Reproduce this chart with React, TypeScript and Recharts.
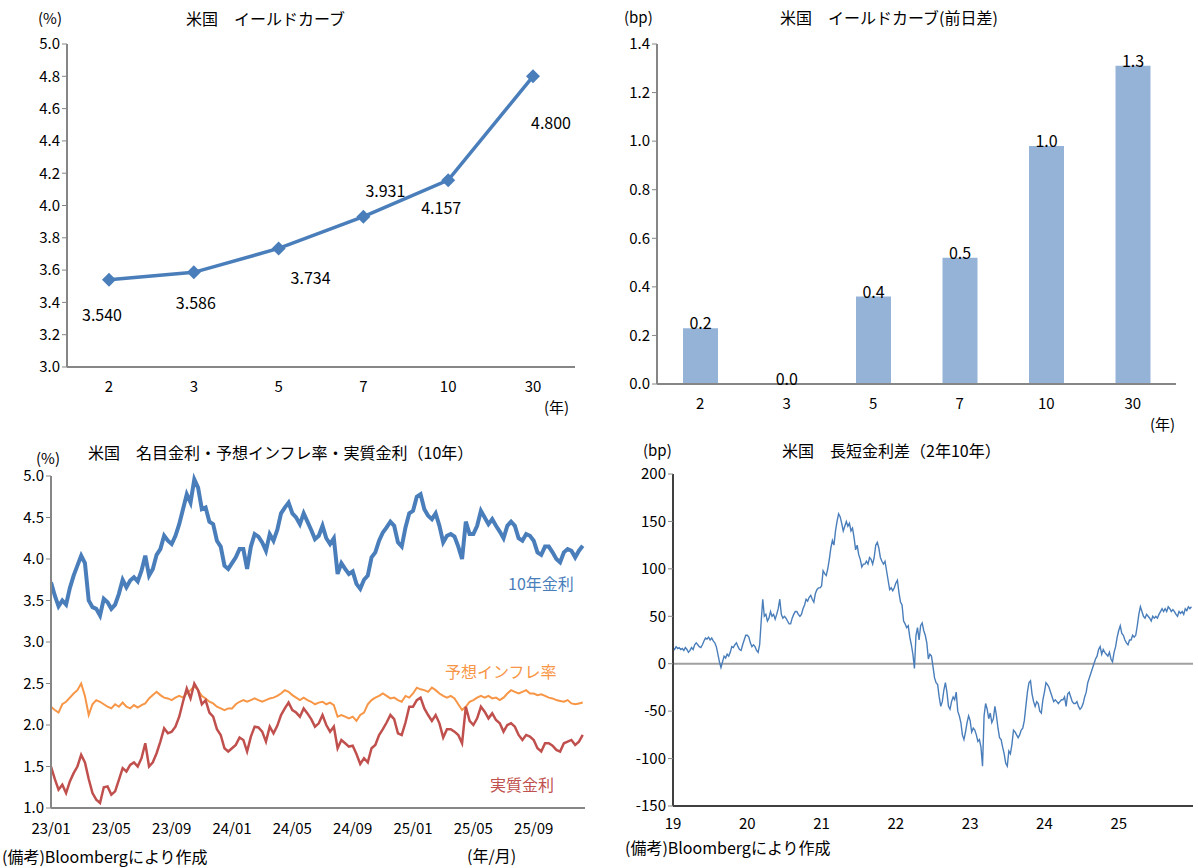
import React from 'react';
import {
  Bar,
  BarChart,
  LabelList,
  Line,
  LineChart,
  ReferenceDot,
  ReferenceLine,
  XAxis,
  YAxis
} from 'recharts';

// top-left: yield curve
const maturities = ['2', '3', '5', '7', '10', '30'];
const curveYields = [3.54, 3.586, 3.734, 3.931, 4.157, 4.8];
// top-right: change from previous day (bp)
const dailyChange = [0.23, 0.0, 0.36, 0.52, 0.98, 1.31];

// bottom-left: 10y nominal, breakeven, real (weekly, 4 per month)
const nominal2023 = [
  3.72, 3.56, 3.43, 3.5, 3.45, 3.65, 3.8, 3.92, 4.04, 3.95, 3.5, 3.42,
  3.4, 3.32, 3.52, 3.48, 3.4, 3.45, 3.58, 3.75, 3.66, 3.74, 3.78, 3.73,
  3.86, 4.04, 3.8, 3.88, 4.05, 4.12, 4.28, 4.22, 4.18, 4.28, 4.42, 4.6,
  4.78, 4.68, 4.96, 4.86, 4.6, 4.62, 4.45, 4.42, 4.22, 4.15, 3.92, 3.88
];
const nominal2024 = [
  3.95, 4.02, 4.12, 4.12, 3.88, 4.15, 4.3, 4.27, 4.2, 4.1, 4.3, 4.22,
  4.35, 4.55, 4.62, 4.68, 4.55, 4.5, 4.42, 4.55, 4.45, 4.35, 4.24, 4.28,
  4.4, 4.25, 4.18, 4.25, 3.82, 3.95, 3.88, 3.82, 3.85, 3.7, 3.64, 3.75,
  3.8, 4.02, 4.08, 4.22, 4.32, 4.38, 4.45, 4.4, 4.2, 4.15, 4.38, 4.55
];
const nominal2025 = [
  4.58, 4.75, 4.78, 4.6, 4.52, 4.48, 4.55, 4.4, 4.2, 4.28, 4.3, 4.27,
  4.15, 4.0, 4.45, 4.3, 4.3, 4.4, 4.58, 4.5, 4.42, 4.48, 4.4, 4.33,
  4.25, 4.4, 4.45, 4.4, 4.25, 4.22, 4.3, 4.28, 4.22, 4.08, 4.05, 4.15,
  4.15, 4.08, 4.0, 3.96, 4.08, 4.12, 4.1, 4.02, 4.1, 4.16
];
const bei2023 = [
  2.22, 2.18, 2.15, 2.25, 2.28, 2.33, 2.38, 2.42, 2.5, 2.35, 2.12, 2.25,
  2.3, 2.28, 2.25, 2.22, 2.2, 2.25, 2.22, 2.27, 2.22, 2.2, 2.24, 2.21,
  2.24, 2.26, 2.32, 2.36, 2.4, 2.36, 2.33, 2.32, 2.3, 2.33, 2.35, 2.33,
  2.38, 2.42, 2.47, 2.42, 2.35, 2.32, 2.28, 2.26, 2.22, 2.2, 2.18, 2.2
];
const bei2024 = [
  2.2, 2.25, 2.28, 2.3, 2.28, 2.3, 2.32, 2.3, 2.28, 2.3, 2.32, 2.33,
  2.35, 2.38, 2.42, 2.4, 2.36, 2.33, 2.3, 2.33, 2.3, 2.28, 2.25, 2.27,
  2.28, 2.25, 2.27, 2.24, 2.1, 2.12, 2.1, 2.08, 2.1, 2.05, 2.12, 2.15,
  2.25, 2.3, 2.33, 2.35, 2.38, 2.35, 2.32, 2.33, 2.3, 2.28, 2.35, 2.33
];
const bei2025 = [
  2.38, 2.45, 2.43, 2.42, 2.4, 2.45, 2.42, 2.38, 2.35, 2.33, 2.35, 2.32,
  2.25, 2.18, 2.22, 2.28, 2.3, 2.33, 2.35, 2.33, 2.35, 2.32, 2.33, 2.3,
  2.33, 2.38, 2.42, 2.4, 2.38, 2.4, 2.42, 2.38, 2.38, 2.36, 2.37, 2.35,
  2.33, 2.32, 2.3, 2.29, 2.28, 2.3, 2.26, 2.25, 2.26, 2.27
];
const real2023 = [
  1.5, 1.35, 1.22, 1.28, 1.18, 1.32, 1.42, 1.5, 1.64, 1.55, 1.35, 1.18,
  1.1, 1.06, 1.25, 1.26, 1.16, 1.2, 1.34, 1.48, 1.44, 1.52, 1.55, 1.5,
  1.6, 1.78, 1.5, 1.55, 1.66, 1.8, 1.96, 1.9, 1.92, 1.98, 2.1, 2.28,
  2.44, 2.32, 2.5, 2.42, 2.25, 2.3, 2.15, 2.1, 1.95, 1.88, 1.72, 1.68
];
const real2024 = [
  1.72, 1.76, 1.85, 1.82, 1.68, 1.86, 1.98, 1.97, 1.92, 1.8, 1.98, 1.9,
  1.99, 2.12, 2.2, 2.27, 2.18, 2.15, 2.1, 2.2, 2.14, 2.07, 1.98, 2.02,
  2.12, 2.0, 1.92, 1.98, 1.72, 1.82, 1.78, 1.74, 1.75, 1.65, 1.53, 1.6,
  1.55, 1.72, 1.76, 1.88, 1.95, 2.03, 2.12, 2.07, 1.9, 1.88, 2.03, 2.22
];
const real2025 = [
  2.22, 2.3, 2.33, 2.2, 2.12, 2.05, 2.12, 2.02, 1.85, 1.95, 1.95, 1.92,
  1.88, 1.78, 2.22, 2.05, 2.0, 2.08, 2.22, 2.16, 2.08, 2.14, 2.06, 2.02,
  1.92, 2.0, 2.02, 1.98, 1.88, 1.82, 1.88, 1.86, 1.82, 1.72, 1.68, 1.78,
  1.78, 1.75, 1.7, 1.68, 1.78, 1.8, 1.82, 1.76, 1.8, 1.88
];
const monthTicks = ['23/01', '23/05', '23/09', '24/01', '24/05', '24/09', '25/01', '25/05', '25/09'];

// bottom-right: 2y10y spread (bp, weekly, 4 per month)
const spread2019 = [
  17, 15, 18, 16, 17, 15, 16, 14, 17, 15, 12, 14,
  17, 15, 20, 22, 20, 18, 17, 20, 24, 27, 26, 28,
  25, 27, 24, 22, 18, 10, 2, -4, 2, 8, 6, 10,
  8, 12, 18, 17, 20, 22, 18, 15, 14, 20, 25, 30
];
const spread2020 = [
  30, 28, 22, 18, 20, 18, 14, 12, 20, 45, 68, 50,
  52, 45, 48, 55, 50, 52, 47, 52, 58, 68, 52, 48,
  50, 48, 45, 42, 42, 48, 52, 55, 55, 52, 50, 52,
  58, 62, 68, 66, 70, 72, 68, 65, 74, 78, 80, 80
];
const spread2021 = [
  82, 98, 95, 93, 100, 110, 122, 130, 125, 140, 150, 158,
  155, 148, 140, 145, 150, 145, 148, 140, 143, 133, 120, 125,
  115, 110, 102, 105, 105, 108, 105, 112, 110, 105, 112, 125,
  128, 122, 112, 108, 105, 108, 98, 88, 78, 80, 77, 80
];
const spread2022 = [
  85, 88, 75, 65, 62, 45, 42, 38, 40, 28, 20, 10,
  -5, 30, 38, 25, 40, 43, 35, 30, 22, 5, 10, 8,
  -3, -15, -20, -22, -35, -45, -40, -28, -20, -30, -45, -48,
  -40, -35, -38, -30, -50, -55, -62, -75, -80, -72, -62, -55
];
const spread2023 = [
  -60, -72, -68, -70, -75, -82, -80, -88, -108, -55, -42, -48,
  -58, -52, -62, -58, -45, -55, -68, -78, -80, -88, -95, -105,
  -108, -92, -95, -85, -70, -72, -75, -78, -75, -70, -68, -60,
  -45, -30, -20, -18, -32, -40, -45, -40, -42, -50, -52, -38
];
const spread2024 = [
  -30, -20, -22, -25, -30, -35, -40, -38, -40, -42, -40, -38,
  -38, -35, -45, -32, -30, -35, -40, -42, -42, -40, -45, -48,
  -46, -42, -35, -30, -20, -15, -10, -5, 0, 5, 8, 15,
  18, 10, 15, 12, 10, 8, 12, 5, 2, 12, 18, 28
];
const spread2025 = [
  35, 40, 32, 30, 25, 22, 20, 25, 25, 30, 28, 30,
  40, 52, 60, 55, 50, 48, 52, 50, 48, 45, 50, 48,
  50, 48, 52, 55, 58, 55, 58, 55, 60, 58, 55, 57,
  55, 52, 50, 55, 53, 55, 52, 58, 56, 60, 58, 60
];
const yearTicks = ['19', '20', '21', '22', '23', '24', '25'];

const JP = '"Noto Sans CJK JP", sans-serif';
const AXIS = '#868686';
const BLUE = '#4A7EBB';
const ORANGE = '#F79646';
const RED = '#C0504D';
const BARBLUE = '#95B3D7';

const curveData = maturities.map((m, i) => ({ m, y: curveYields[i] }));
const changeData = maturities.map((m, i) => ({ m, v: dailyChange[i] }));

const rateRows: { t: number; nominal: number; bei: number; real: number }[] = [];
(
  [
    [2023, nominal2023, bei2023, real2023],
    [2024, nominal2024, bei2024, real2024],
    [2025, nominal2025, bei2025, real2025]
  ] as [number, number[], number[], number[]][]
).forEach(([yr, n, b, r]) => {
  n.forEach((v, i) => rateRows.push({ t: yr + i / 48, nominal: v, bei: b[i], real: r[i] }));
});

const spreadRows: { t: number; s: number }[] = [];
(
  [
    [2019, spread2019],
    [2020, spread2020],
    [2021, spread2021],
    [2022, spread2022],
    [2023, spread2023],
    [2024, spread2024],
    [2025, spread2025]
  ] as [number, number[]][]
).forEach(([yr, arr]) => arr.forEach((s, i) => spreadRows.push({ t: yr + i / 48, s })));

const monthTickValues = monthTicks.map((l) => {
  const [yy, mm] = l.split('/').map(Number);
  return 2000 + yy + (mm - 1) / 12;
});
const fmtMonth = (v: number) => {
  const yr = Math.floor(v + 1e-6);
  const mo = Math.round((v - yr) * 12) + 1;
  return `${String(yr).slice(2)}/${String(mo).padStart(2, '0')}`;
};
const yearTickValues = yearTicks.map((y) => 2000 + Number(y));

const tickStyle = { fontSize: 15, fill: '#000', fontFamily: JP };

// where each yield label sits relative to its point
const labelOffsets = [
  [-7, 34],
  [2, 30],
  [32, 29],
  [22, -27],
  [-7, 27],
  [18, 46]
];

const Diamond = (p: any) => {
  const { cx, cy, index } = p;
  if (cx == null || cy == null) return <g key={index} />;
  const s = 7;
  return (
    <path
      key={index}
      d={`M${cx} ${cy - s}L${cx + s} ${cy}L${cx} ${cy + s}L${cx - s} ${cy}Z`}
      fill={BLUE}
    />
  );
};

const YieldLabel = (p: any) => {
  const { x, y, value, index } = p;
  const [dx, dy] = labelOffsets[index] || [0, 0];
  return (
    <text
      x={x + dx}
      y={y + dy}
      textAnchor="middle"
      dominantBaseline="central"
      fontSize={16}
      fontFamily={JP}
      fill="#000"
    >
      {Number(value).toFixed(3)}
    </text>
  );
};

const BarValue = (p: any) => {
  const { x, y, width, value } = p;
  return (
    <text x={x + width / 2} y={y + 1} textAnchor="middle" fontSize={16} fontFamily={JP} fill="#000">
      {Number(value).toFixed(1)}
    </text>
  );
};

function Txt({ x, y, children, size = 15, color = '#000' }: any) {
  return (
    <div
      style={{
        position: 'absolute',
        left: x,
        top: y,
        fontSize: size,
        color,
        whiteSpace: 'nowrap',
        lineHeight: 1,
        fontFamily: JP
      }}
    >
      {children}
    </div>
  );
}

const Box = ({ x, y, children }: any) => (
  <div style={{ position: 'absolute', left: x, top: y }}>{children}</div>
);

export default function App() {
  return (
    <div style={{ position: 'relative', width: 1198, height: 868, background: '#fff', overflow: 'hidden' }}>
      <style>{'body{margin:0}'}</style>

      {/* top-left */}
      <Box x={0} y={0}>
        <LineChart width={600} height={420} data={curveData} margin={{ top: 44, right: 25, bottom: 23, left: 17 }}>
          <XAxis
            dataKey="m"
            padding={{ left: 42, right: 42 }}
            tick={tickStyle}
            tickLine={false}
            axisLine={{ stroke: AXIS, strokeWidth: 2 }}
            height={30}
            tickMargin={8}
          />
          <XAxis xAxisId="top" orientation="top" dataKey="m" tick={false} tickLine={false} axisLine={{ stroke: '#000' }} height={0} />
          <YAxis
            domain={[3, 5]}
            ticks={[3, 3.2, 3.4, 3.6, 3.8, 4, 4.2, 4.4, 4.6, 4.8, 5]}
            tickFormatter={(v: number) => v.toFixed(1)}
            tick={tickStyle}
            tickLine={{ stroke: AXIS }}
            tickSize={5}
            axisLine={{ stroke: AXIS, strokeWidth: 2 }}
            width={50}
            allowDataOverflow
          />
          <YAxis yAxisId="right" orientation="right" tick={false} tickLine={false} axisLine={{ stroke: '#000' }} width={0} />
          <Line
            dataKey="y"
            stroke={BLUE}
            strokeWidth={3.5}
            dot={Diamond}
            activeDot={false}
            isAnimationActive={false}
          >
            <LabelList dataKey="y" content={YieldLabel} />
          </Line>
        </LineChart>
      </Box>
      <Txt x={38} y={10} size={15}>(%)</Txt>
      <Txt x={186} y={10} size={16}>米国　イールドカーブ</Txt>
      <Txt x={544} y={399} size={15}>(年)</Txt>

      {/* top-right */}
      <Box x={600} y={0}>
        <BarChart width={598} height={440} data={changeData} margin={{ top: 44, right: 22, bottom: 26, left: 12 }}>
          <XAxis
            dataKey="m"
            tick={tickStyle}
            tickLine={false}
            axisLine={{ stroke: AXIS, strokeWidth: 2 }}
            height={30}
            tickMargin={8}
          />
          <XAxis xAxisId="top" orientation="top" dataKey="m" tick={false} tickLine={false} axisLine={{ stroke: '#000' }} height={0} />
          <YAxis
            domain={[0, 1.4]}
            ticks={[0, 0.2, 0.4, 0.6, 0.8, 1, 1.2, 1.4]}
            tickFormatter={(v: number) => v.toFixed(1)}
            tick={tickStyle}
            tickLine={{ stroke: AXIS }}
            tickSize={5}
            axisLine={{ stroke: AXIS, strokeWidth: 2 }}
            width={45}
          />
          <YAxis yAxisId="right" orientation="right" tick={false} tickLine={false} axisLine={{ stroke: '#000' }} width={0} />
          <Bar dataKey="v" fill={BARBLUE} barSize={35} isAnimationActive={false}>
            <LabelList dataKey="v" content={BarValue} />
          </Bar>
          {/* zero-height bars get no label from the bar itself */}
          {changeData
            .filter((d) => d.v === 0)
            .map((d) => (
              <ReferenceDot
                key={d.m}
                x={d.m}
                y={d.v}
                r={0.1}
                fill="none"
                stroke="none"
                label={{
                  value: d.v.toFixed(1),
                  position: 'top',
                  offset: -1,
                  fontSize: 16,
                  fill: '#000',
                  fontFamily: JP
                }}
              />
            ))}
        </BarChart>
      </Box>
      <Txt x={624} y={9} size={15}>(bp)</Txt>
      <Txt x={780} y={9} size={16}>米国　イールドカーブ(前日差)</Txt>
      <Txt x={1150} y={416} size={15}>(年)</Txt>

      {/* bottom-left */}
      <Box x={0} y={430}>
        <LineChart width={600} height={438} data={rateRows} margin={{ top: 46, right: 15, bottom: 35, left: 11 }}>
          <XAxis
            dataKey="t"
            type="number"
            domain={[2023, 2025.95]}
            ticks={monthTickValues}
            tickFormatter={fmtMonth}
            tick={tickStyle}
            tickLine={false}
            axisLine={{ stroke: AXIS, strokeWidth: 2 }}
            height={25}
            tickMargin={9}
            allowDataOverflow
          />
          <XAxis xAxisId="top" orientation="top" type="number" dataKey="t" domain={[2023, 2025.95]} tick={false} tickLine={false} axisLine={{ stroke: '#000' }} height={0} />
          <YAxis
            domain={[1, 5]}
            ticks={[1, 1.5, 2, 2.5, 3, 3.5, 4, 4.5, 5]}
            tickFormatter={(v: number) => v.toFixed(1)}
            tick={tickStyle}
            tickLine={{ stroke: AXIS }}
            tickSize={5}
            axisLine={{ stroke: AXIS, strokeWidth: 2 }}
            width={40}
          />
          <YAxis yAxisId="right" orientation="right" tick={false} tickLine={false} axisLine={{ stroke: '#000' }} width={0} />
          <Line dataKey="nominal" stroke={BLUE} strokeWidth={4} dot={false} activeDot={false} isAnimationActive={false} />
          <Line dataKey="bei" stroke={ORANGE} strokeWidth={2} dot={false} activeDot={false} isAnimationActive={false} />
          <Line dataKey="real" stroke={RED} strokeWidth={2.5} dot={false} activeDot={false} isAnimationActive={false} />
        </LineChart>
      </Box>
      <Txt x={36} y={450} size={15}>(%)</Txt>
      <Txt x={88} y={444} size={16}>米国　名目金利・予想インフレ率・実質金利（10年）</Txt>
      <Txt x={508} y={575} size={16} color={BLUE}>10年金利</Txt>
      <Txt x={445} y={663} size={16} color={ORANGE}>予想インフレ率</Txt>
      <Txt x={490} y={776} size={16} color={RED}>実質金利</Txt>
      <Txt x={2} y={848} size={16}>(備考)Bloombergにより作成</Txt>
      <Txt x={467} y={847} size={16}>(年/月)</Txt>

      {/* bottom-right */}
      <Box x={600} y={430}>
        <LineChart width={598} height={438} data={spreadRows} margin={{ top: 44, right: 5, bottom: 37, left: 18 }}>
          <XAxis
            dataKey="t"
            type="number"
            domain={[2019, 2026]}
            ticks={yearTickValues}
            tickFormatter={(v: number) => String(v).slice(2)}
            tick={tickStyle}
            tickLine={false}
            axisLine={{ stroke: '#404040', strokeWidth: 2 }}
            height={25}
            tickMargin={6}
          />
          <XAxis xAxisId="top" orientation="top" type="number" dataKey="t" domain={[2019, 2026]} tick={false} tickLine={false} axisLine={{ stroke: '#000', strokeWidth: 1.5 }} height={0} />
          <YAxis
            domain={[-150, 200]}
            ticks={[-150, -100, -50, 0, 50, 100, 150, 200]}
            tick={tickStyle}
            tickLine={{ stroke: AXIS }}
            tickSize={5}
            axisLine={{ stroke: '#404040', strokeWidth: 2 }}
            width={55}
          />
          <YAxis yAxisId="right" orientation="right" tick={false} tickLine={false} axisLine={{ stroke: '#000', strokeWidth: 1.5 }} width={0} />
          <ReferenceLine y={0} stroke="#A0A0A0" strokeWidth={2} />
          <Line dataKey="s" stroke={BLUE} strokeWidth={1.4} dot={false} activeDot={false} isAnimationActive={false} />
        </LineChart>
      </Box>
      <Txt x={643} y={442} size={15}>(bp)</Txt>
      <Txt x={782} y={442} size={16}>米国　長短金利差（2年10年）</Txt>
      <Txt x={625} y={839} size={16}>(備考)Bloombergにより作成</Txt>
    </div>
  );
}
